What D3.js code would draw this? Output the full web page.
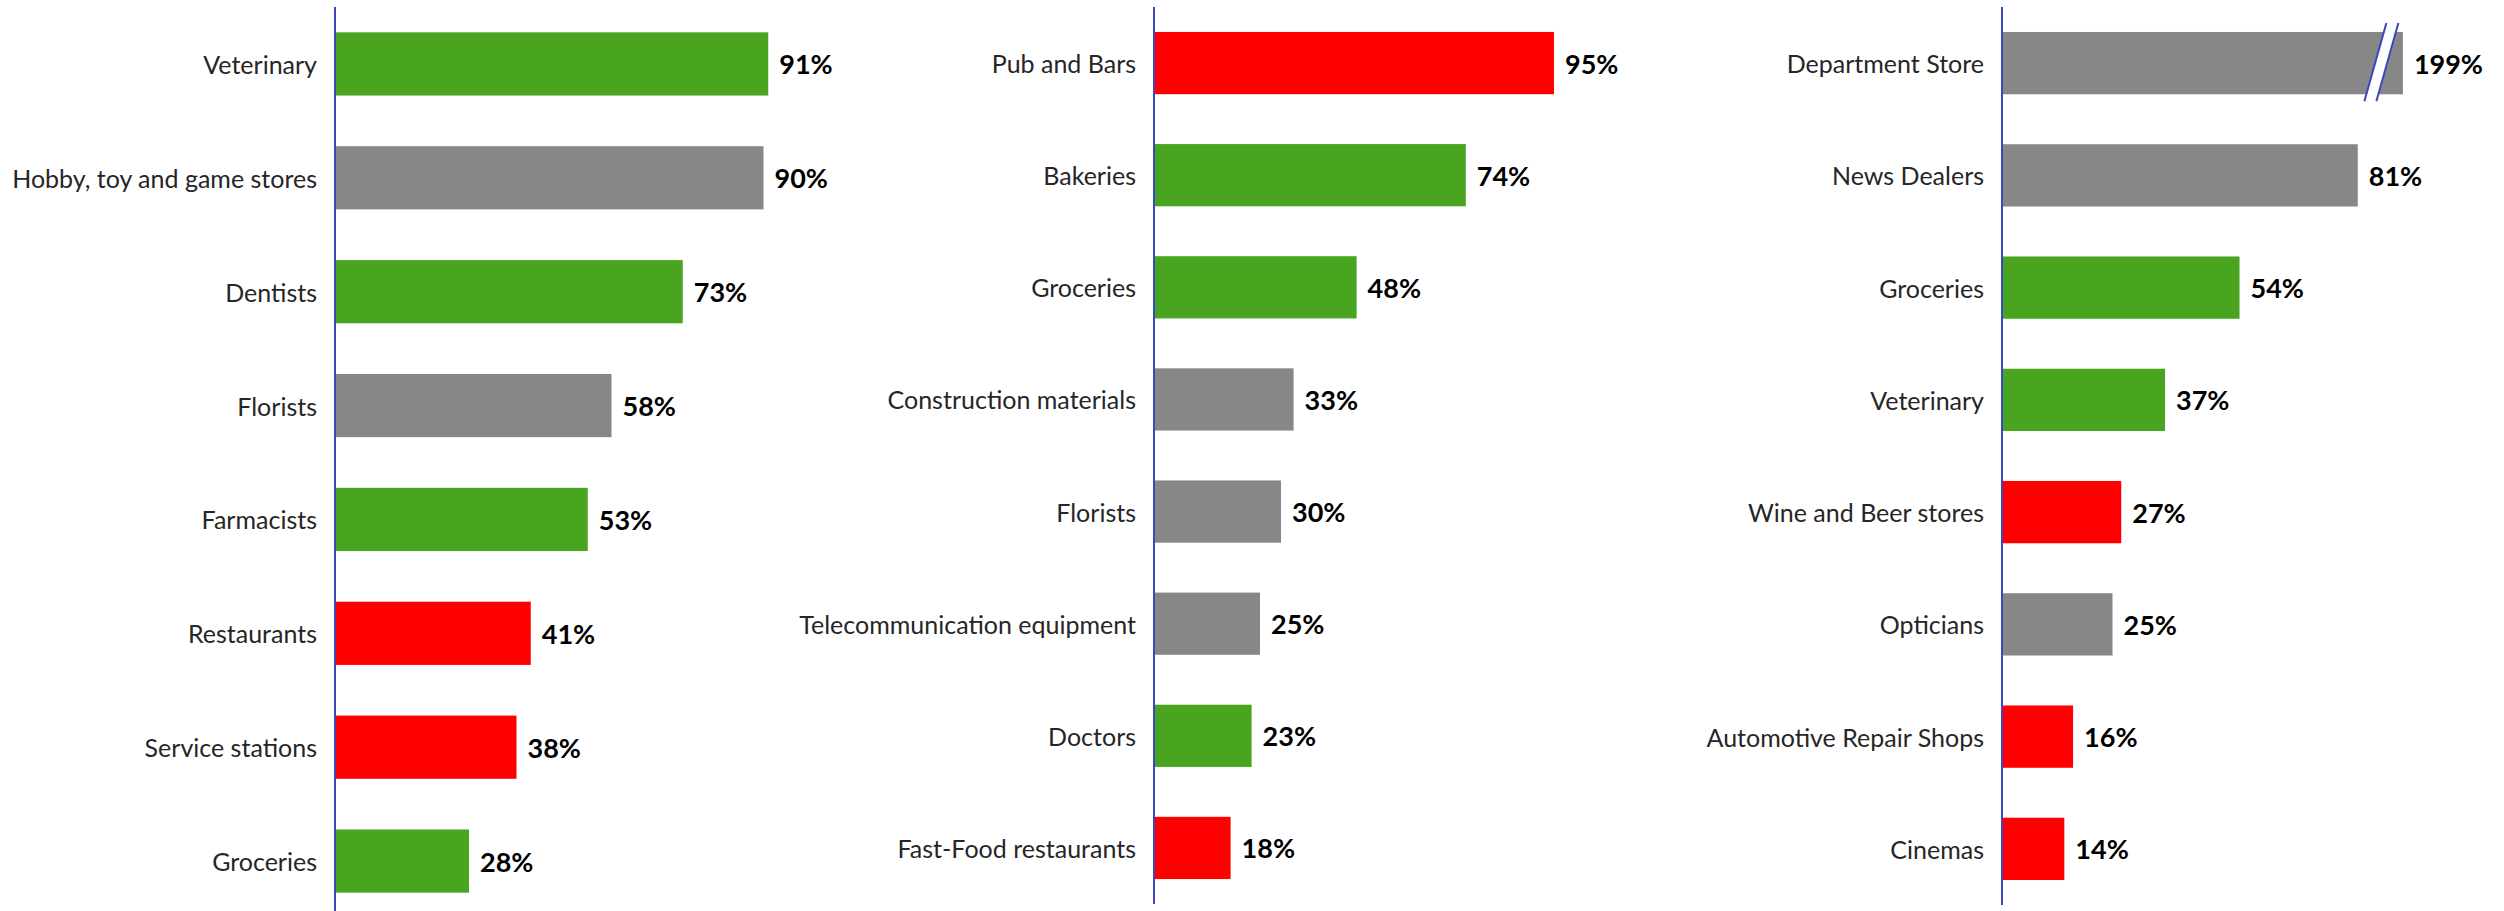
<!DOCTYPE html>
<html>
<head>
<meta charset="utf-8">
<script src="https://cdn.jsdelivr.net/npm/d3@7"></script>
<style>
  body { margin: 0; background: #fff; }
  svg text { font-family: Lato, "Open Sans", sans-serif; }
</style>
</head>
<body>
<div id="chart"></div>
<script>
// Data: one set of arrays per panel
const storesA = ["Veterinary", "Hobby, toy and game stores", "Dentists", "Florists", "Farmacists", "Restaurants", "Service stations", "Groceries"];
const valuesA = [0.91, 0.90, 0.73, 0.58, 0.53, 0.41, 0.38, 0.28];
const groupsA = ["up", "flat", "up", "flat", "up", "down", "down", "up"];

const storesB = ["Pub and Bars", "Bakeries", "Groceries", "Construction materials", "Florists", "Telecommunication equipment", "Doctors", "Fast-Food restaurants"];
const valuesB = [0.95, 0.74, 0.48, 0.33, 0.30, 0.25, 0.23, 0.18];
const groupsB = ["down", "up", "up", "flat", "flat", "flat", "up", "down"];

const storesC = ["Department Store", "News Dealers", "Groceries", "Veterinary", "Wine and Beer stores", "Opticians", "Automotive Repair Shops", "Cinemas"];
const valuesC = [1.99, 0.81, 0.54, 0.37, 0.27, 0.25, 0.16, 0.14];
const groupsC = ["flat", "flat", "up", "up", "down", "flat", "down", "down"];

// Styles
const width = 2504, height = 911;
const groupColor = { up: "#49A520", flat: "#878787", down: "#FF0000" };
const axisColor = "#3C46BE";
const fmt = d3.format(".0%");

const svg = d3.select("#chart")
    .append("svg")
    .attr("width", width)
    .attr("height", height);

// Each panel: where the axis sits, how wide 100% is, vertical extent
const panels = [
    { stores: storesA, values: valuesA, groups: groupsA, axisX: 335, w100: 475, y0: 7, y1: 918 },
    { stores: storesB, values: valuesB, groups: groupsB, axisX: 1154, w100: 420, y0: 7, y1: 904 },
    { stores: storesC, values: valuesC, groups: groupsC, axisX: 2002, w100: 438, y0: 7, y1: 905, cap: 0.913 }
];

function drawPanel(p) {
    const g = svg.append("g");
    const rows = d3.range(p.stores.length);

    const y = d3.scaleBand()
        .domain(p.stores)
        .range([p.y0, p.y1])
        .paddingInner(0.445)
        .paddingOuter(0.2225);

    const x = d3.scaleLinear()
        .domain([0, 1])
        .range([p.axisX + 1, p.axisX + 1 + p.w100]);

    const shown = v => p.cap ? Math.min(v, p.cap) : v;

    g.selectAll("rect.bar")
        .data(rows)
        .join("rect")
        .attr("class", "bar")
        .attr("x", x(0))
        .attr("y", i => y(p.stores[i]))
        .attr("width", i => x(shown(p.values[i])) - x(0))
        .attr("height", y.bandwidth())
        .attr("fill", i => groupColor[p.groups[i]]);

    // category labels
    g.selectAll("text.cat")
        .data(rows)
        .join("text")
        .attr("class", "cat")
        .attr("x", p.axisX - 18)
        .attr("y", i => y(p.stores[i]) + y.bandwidth() / 2)
        .attr("text-anchor", "end")
        .attr("dominant-baseline", "central")
        .attr("font-size", 25)
        .attr("fill", "#262626")
        .text(i => p.stores[i]);

    // value labels
    g.selectAll("text.val")
        .data(rows)
        .join("text")
        .attr("class", "val")
        .attr("x", i => x(shown(p.values[i])) + 11)
        .attr("y", i => y(p.stores[i]) + y.bandwidth() / 2)
        .attr("dominant-baseline", "central")
        .attr("font-size", 27)
        .attr("font-weight", "bold")
        .attr("fill", "#000")
        .text(i => fmt(p.values[i]));

    // axis line
    g.append("line")
        .attr("x1", p.axisX).attr("x2", p.axisX)
        .attr("y1", p.y0).attr("y2", p.y1)
        .attr("stroke", axisColor)
        .attr("stroke-width", 2);

    // break marks on bars cut by the cap
    rows.filter(i => p.cap && p.values[i] > p.cap).forEach(i => {
        const xe = x(p.cap);
        const top = y(p.stores[i]) - 9;
        const bot = y(p.stores[i]) + y.bandwidth() + 7;
        const a = [xe - 16.5, top], b = [xe - 38.5, bot];
        const c = [xe - 4.5, top], d = [xe - 26.5, bot];
        g.append("path")
            .attr("d", `M${a}L${c}L${d}L${b}Z`)
            .attr("fill", "#fff");
        [[a, b], [c, d]].forEach(([s, e]) => {
            g.append("line")
                .attr("x1", s[0]).attr("y1", s[1])
                .attr("x2", e[0]).attr("y2", e[1])
                .attr("stroke", axisColor)
                .attr("stroke-width", 2);
        });
    });
}

panels.forEach(drawPanel);
</script>
</body>
</html>
